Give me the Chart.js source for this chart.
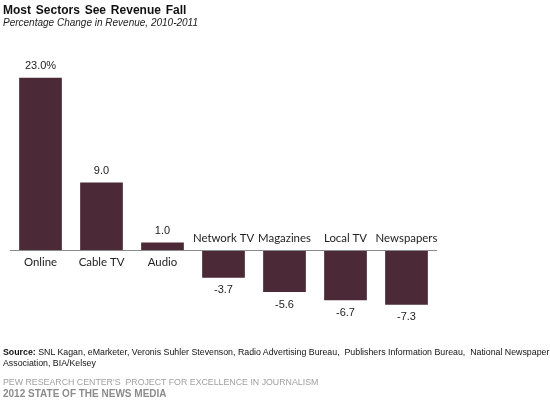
<!DOCTYPE html>
<html>
<head>
<meta charset="utf-8">
<script src="https://cdn.jsdelivr.net/npm/chart.js@4"></script>
<style>
  body { margin: 0; background: #fff; }
  #wrap { position: relative; width: 550px; height: 404px; overflow: hidden; }
  #c { position: absolute; left: 0; top: 0; }
  .t { position: absolute; white-space: nowrap; font-family: Arial, "Liberation Sans", sans-serif; }
</style>
</head>
<body>
<div id="wrap">
  <canvas id="c" width="550" height="404"></canvas>
  <div class="t" style="left:3px;top:3px;font-size:12px;font-weight:bold;color:#111;word-spacing:1.5px">Most Sectors See Revenue Fall</div>
  <div class="t" style="left:3px;top:17px;font-size:10px;font-style:italic;color:#222">Percentage Change in Revenue, 2010-2011</div>
  <div class="t" style="left:3px;top:347px;font-size:8.8px;color:#111;line-height:10.5px">
    <b>Source:</b> SNL Kagan, eMarketer, Veronis Suhler Stevenson, Radio Advertising Bureau, &nbsp;Publishers Information Bureau, &nbsp;National Newspaper<br>Association, BIA/Kelsey</div>
  <div class="t" style="left:3px;top:377px;font-size:8.8px;color:#a0a0a0">PEW RESEARCH CENTER'S &nbsp;PROJECT FOR EXCELLENCE IN JOURNALISM</div>
  <div class="t" style="left:3px;top:388px;font-size:10px;font-weight:bold;color:#8c8c8c">2012 STATE OF THE NEWS MEDIA</div>
</div>
<script>
// donnees
var sectors = ['Online', 'Cable TV', 'Audio', 'Network TV', 'Magazines', 'Local TV', 'Newspapers'];
var change = [23.0, 9.0, 1.0, -3.7, -5.6, -6.7, -7.3];
var valueLabels = ['23.0%', '9.0', '1.0', '-3.7', '-5.6', '-6.7', '-7.3'];

// axe zero + etiquettes
var labelsPlugin = {
  id: 'labels',
  afterDatasetsDraw: function(chart) {
    var ctx = chart.ctx;
    var x = chart.scales.x, y = chart.scales.y;
    var y0 = y.getPixelForValue(0);
    ctx.save();
    ctx.strokeStyle = '#8a8a8a';
    ctx.lineWidth = 1;
    ctx.beginPath();
    ctx.moveTo(chart.chartArea.left, y0 + 0.5);
    ctx.lineTo(chart.chartArea.right, y0 + 0.5);
    ctx.stroke();

    ctx.textAlign = 'center';
    ctx.textBaseline = 'middle';
    var meta = chart.getDatasetMeta(0);
    for (var i = 0; i < sectors.length; i++) {
      var bar = meta.data[i];
      var cx = x.getPixelForValue(i);
      var pos = change[i] >= 0;
      // nom du secteur
      ctx.fillStyle = '#222';
      ctx.font = '11.4px Lato, "Open Sans", sans-serif';
      ctx.fillText(sectors[i], cx, pos ? y0 + 12 : y0 - 11.5);
      // valeur
      ctx.font = '11px Arial, "Liberation Sans", sans-serif';
      ctx.fillText(valueLabels[i], cx, pos ? bar.y - 11.5 : bar.y + 12.5);
    }
    ctx.restore();
  }
};

new Chart(document.getElementById('c'), {
  type: 'bar',
  data: {
    labels: sectors,
    datasets: [{
      data: change,
      backgroundColor: '#4b2937',
      borderWidth: 0,
      categoryPercentage: 1,
      barPercentage: 0.70
    }]
  },
  options: {
    responsive: false,
    animation: false,
    layout: { padding: { left: 10, right: 113, top: 77.5, bottom: 94 } },
    plugins: { legend: { display: false }, tooltip: { enabled: false } },
    scales: {
      x: { display: false },
      y: { display: false, min: -8, max: 23 }
    }
  },
  plugins: [labelsPlugin]
});
</script>
</body>
</html>
